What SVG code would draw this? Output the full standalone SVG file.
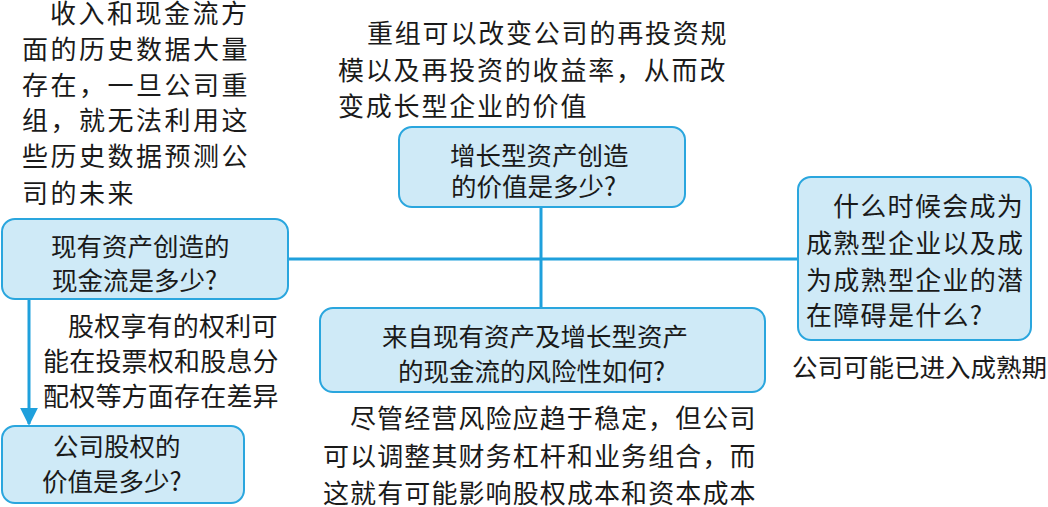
<svg xmlns="http://www.w3.org/2000/svg" width="1048" height="507" viewBox="0 0 1048 507">
<defs>
<style>
.box{fill:#cfeaf7;stroke:#2aa6de;stroke-width:2}
.ln{stroke:#1fa0dc;stroke-width:3;fill:none}
text{font-family:"Noto Sans CJK SC","Noto Sans CJK TC",sans-serif;fill:#1a1a1a}
.bt{font-size:25.5px}
</style>
<marker id="ah" viewBox="0 0 10 10" refX="9" refY="5" markerWidth="6" markerHeight="6" markerUnits="strokeWidth" orient="auto">
<path d="M0,0 L10,5 L0,10 z" fill="#1fa0dc"/>
</marker>
</defs>
<rect width="1048" height="507" fill="#ffffff"/>
<g id="connectors">
<line class="ln" x1="288" y1="259" x2="798" y2="259"/>
<line class="ln" x1="541" y1="207" x2="541" y2="308"/>
<line class="ln" x1="29" y1="299" x2="29" y2="424" marker-end="url(#ah)"/>
</g>
<g id="note-history">
<text style="font-size:26px;letter-spacing:2.5px"><tspan x="50" y="23">收入和现金流方</tspan><tspan x="22" y="59">面的历史数据大量</tspan><tspan x="22" y="95">存在，一旦公司重</tspan><tspan x="22" y="130">组，就无法利用这</tspan><tspan x="22" y="166">些历史数据预测公</tspan><tspan x="22" y="203">司的未来</tspan></text>
</g>
<g id="note-restructure">
<text style="font-size:26px;letter-spacing:1.8px"><tspan x="367" y="43">重组可以改变公司的再投资规</tspan><tspan x="338" y="80">模以及再投资的收益率，从而改</tspan><tspan x="338" y="116">变成长型企业的价值</tspan></text>
</g>
<g id="node-growth">
<rect class="box" x="399" y="127" width="286" height="80" rx="13"/>
<text class="bt"><tspan x="450" y="165">增长型资产创造</tspan><tspan x="451" y="196">的价值是多少?</tspan></text>
</g>
<g id="node-existing">
<rect class="box" x="2" y="219" width="286" height="80" rx="13"/>
<text class="bt"><tspan x="51" y="256">现有资产创造的</tspan><tspan x="52" y="290">现金流是多少?</tspan></text>
</g>
<g id="note-rights">
<text style="font-size:26px;letter-spacing:0.2px"><tspan x="68" y="336">股权享有的权利可</tspan><tspan x="43" y="371">能在投票权和股息分</tspan><tspan x="43" y="406">配权等方面存在差异</tspan></text>
</g>
<g id="node-equity">
<rect class="box" x="2" y="426" width="242" height="77" rx="13"/>
<text class="bt"><tspan x="53" y="456">公司股权的</tspan><tspan x="42" y="491">价值是多少?</tspan></text>
</g>
<g id="node-risk">
<rect class="box" x="320" y="308" width="445" height="84" rx="13"/>
<text class="bt"><tspan x="382" y="346">来自现有资产及增长型资产</tspan><tspan x="398" y="381">的现金流的风险性如何?</tspan></text>
</g>
<g id="note-risk">
<text style="font-size:26px;letter-spacing:1.1px"><tspan x="350" y="428">尽管经营风险应趋于稳定，但公司</tspan><tspan x="323" y="466">可以调整其财务杠杆和业务组合，而</tspan><tspan x="323" y="503">这就有可能影响股权成本和资本成本</tspan></text>
</g>
<g id="node-mature">
<rect class="box" x="798" y="177" width="233" height="163" rx="13"/>
<text style="font-size:26px;letter-spacing:1.3px"><tspan x="833" y="216">什么时候会成为</tspan><tspan x="806" y="253">成熟型企业以及成</tspan><tspan x="806" y="290">为成熟型企业的潜</tspan><tspan x="806" y="325">在障碍是什么?</tspan></text>
</g>
<g id="note-mature">
<text style="font-size:25.5px"><tspan x="792" y="377">公司可能已进入成熟期</tspan></text>
</g>
</svg>
